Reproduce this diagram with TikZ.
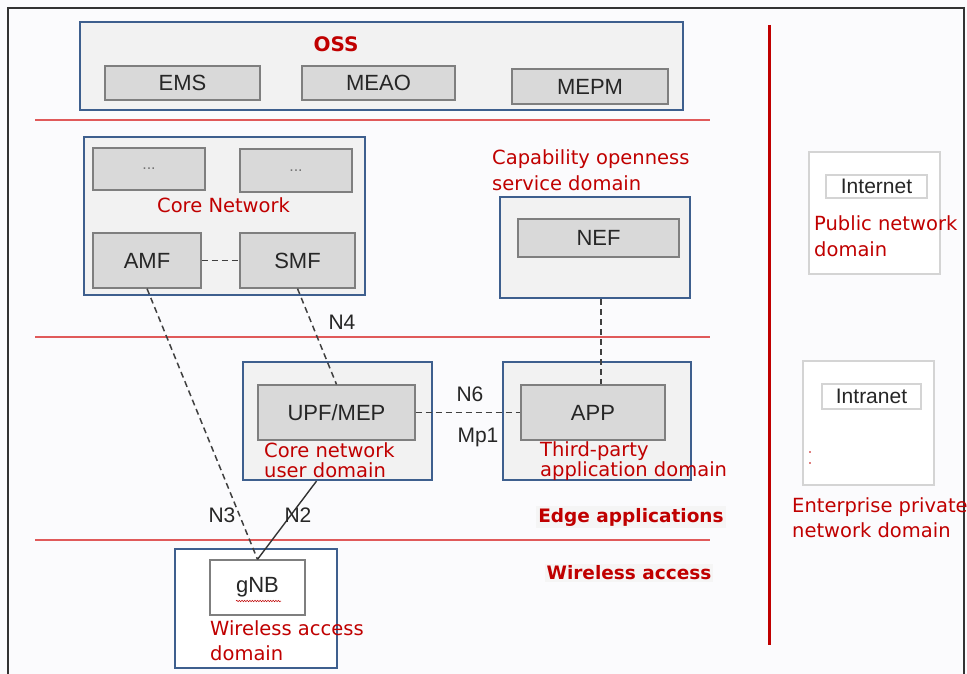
\documentclass[tikz,border=0pt]{standalone}
\usepackage{fontspec}
\setmainfont{Liberation Sans}
\newfontfamily\rf{DejaVu Sans}
\usetikzlibrary{decorations.pathmorphing}
\definecolor{bblue}{HTML}{3E5F8E}
\definecolor{dred}{HTML}{C00000}
\definecolor{lred}{HTML}{E05A5A}
\definecolor{boxgray}{HTML}{D9D9D9}
\definecolor{lightbg}{HTML}{F2F2F2}
\definecolor{edgegray}{HTML}{7F7F7F}
\definecolor{cloudgray}{HTML}{D4D4D4}
\definecolor{pagebg}{HTML}{FBFBFD}
\newcommand\mybox[7]{%
  \pgfmathsetmacro\bcx{(#3+#5)/2}\pgfmathsetmacro\bcy{(#4+#6)/2}%
  \pgfmathsetmacro\bbw{#5-#3}\pgfmathsetmacro\bbh{#6-#4}%
  \node[#2, minimum width=\bbw pt, minimum height=\bbh pt] (#1) at (\bcx,\bcy) {#7};}
\begin{document}
\begin{tikzpicture}[x=1pt,y=-1pt,
  outer/.style={draw=bblue, line width=2.2pt, fill=lightbg, inner sep=0pt},
  inner/.style={draw=edgegray, line width=1.3pt, fill=boxgray, inner sep=0pt, font=\fontsize{22}{22}\selectfont, text=black!85},
  cloud/.style={draw=cloudgray, line width=2pt, fill=white, inner sep=0pt},
  cloudin/.style={draw=cloudgray, line width=1.3pt, fill=white, inner sep=0pt, font=\fontsize{21}{21}\selectfont, text=black!85},
  redtxt/.style={anchor=base west, inner sep=0pt, text=dred, font=\rf\fontsize{19.5}{19.5}\selectfont},
  boldred/.style={inner sep=2pt, text=dred, fill=black!4, font=\rf\bfseries\fontsize{18.5}{18.5}\selectfont},
  lbl/.style={inner sep=0pt, text=black!85, font=\fontsize{21}{21}\selectfont},
  dashline/.style={draw=black!75, line width=1.5pt, dash pattern=on 6pt off 4pt},
  solidline/.style={draw=black!80, line width=1.4pt},
  sepline/.style={draw=lred, line width=1.5pt}
]
\useasboundingbox (0,0) rectangle (967,674);
\fill[pagebg] (0,0) rectangle (967,674);
% frame
\draw[black!80, line width=2pt] (8,674) -- (8,8) -- (964,8) -- (964,674);

% separator lines
\draw[sepline] (35,120) -- (710,120);
\draw[sepline] (35,337) -- (710,337);
\draw[sepline] (35,540) -- (710,540);
\draw[dred, line width=3pt] (769,25) -- (769,645);

% OSS
\mybox{oss}{outer}{80}{22}{683}{110}{}
\node[text=dred, font=\rf\bfseries\fontsize{20}{20}\selectfont, inner sep=0pt] (osst) at (336,44) {OSS};
\mybox{ems}{inner}{105}{66}{260}{100}{EMS}
\mybox{meao}{inner}{302}{66}{455}{100}{MEAO}
\mybox{mepm}{inner}{512}{69}{668}{104}{MEPM}

% Core network
\mybox{core}{outer}{84}{137}{365}{295}{}
\mybox{d1}{inner, font=\fontsize{16}{16}\selectfont, text=black!55}{93}{148}{205}{190}{...}
\mybox{d2}{inner, font=\fontsize{16}{16}\selectfont, text=black!55}{240}{149}{352}{192}{...}
\node[redtxt] (corelbl) at (157,212) {Core Network};
\mybox{amf}{inner}{93}{233}{201}{288}{AMF}
\mybox{smf}{inner}{240}{233}{355}{288}{SMF}

% Capability openness
\node[redtxt] (cap1) at (492,165) {Capability openness};
\node[redtxt] (cap2) at (492,190) {service domain};
\mybox{nefd}{outer}{500}{197}{690}{298}{}
\mybox{nef}{inner}{518}{219}{679}{257}{NEF}

% Public network
\mybox{pub}{cloud}{809}{152}{940}{274}{}
\mybox{inet}{cloudin}{826}{175}{927}{198}{Internet}
\node[redtxt] (pub1) at (814,230) {Public network};
\node[redtxt] (pub2) at (814,256) {domain};

% Edge
\mybox{upfd}{outer}{243}{362}{432}{480}{}
\mybox{upf}{inner}{258}{385}{415}{440}{UPF/MEP}
\node[redtxt] (cu1) at (264,457) {Core network};
\node[redtxt] (cu2) at (264,477) {user domain};
\mybox{appd}{outer}{503}{362}{691}{480}{}
\mybox{app}{inner}{521}{385}{665}{440}{APP}
\node[redtxt] (tp1) at (540,456) {Third-party};
\node[redtxt] (tp2) at (540,476) {application domain};

% Enterprise
\mybox{ent}{cloud}{803}{361}{934}{485}{}
\mybox{intra}{cloudin}{822}{384}{921}{409}{Intranet}
\fill[dred] (810,452) circle (0.9pt) (810,463) circle (0.9pt);
\node[redtxt] (en1) at (792,512) {Enterprise private};
\node[redtxt] (en2) at (792,537) {network domain};

% layer labels
\node[boldred] (edge) at (631,517) {Edge applications};
\node[boldred] (wacc) at (629,573) {Wireless access};

% wireless access domain
\mybox{gnbd}{outer, fill=white}{175}{549}{337}{668}{}
\mybox{gnb}{inner, fill=white}{210}{560}{305}{615}{gNB}
\draw[decorate, decoration={snake, amplitude=0.7pt, segment length=2.6pt}, dred, line width=0.5pt] (236,601) -- (281,601);
\node[redtxt] (wa1) at (210,635) {Wireless access};
\node[redtxt] (wa2) at (210,660) {domain};

% connectors
\draw[dashline] (amf) -- (smf);
\draw[dashline] (smf.south) -- (upf.north);
\draw[dashline] (amf.south) -- (gnb.north);
\draw[solidline] ([xshift=-21pt]upfd.south) -- (gnb.north);
\draw[dashline] (upf) -- (app);
\draw[dashline] ([xshift=6pt]nefd.south) -- ([xshift=8pt]app.north);

% interface labels
\node[lbl] (n4) at (342,322) {N4};
\node[lbl] (n3) at (222,515) {N3};
\node[lbl] (n2) at (298,515) {N2};
\node[lbl] (n6) at (470,394) {N6};
\node[lbl] (mp1) at (478,437) {Mp1};
\end{tikzpicture}
\end{document}
